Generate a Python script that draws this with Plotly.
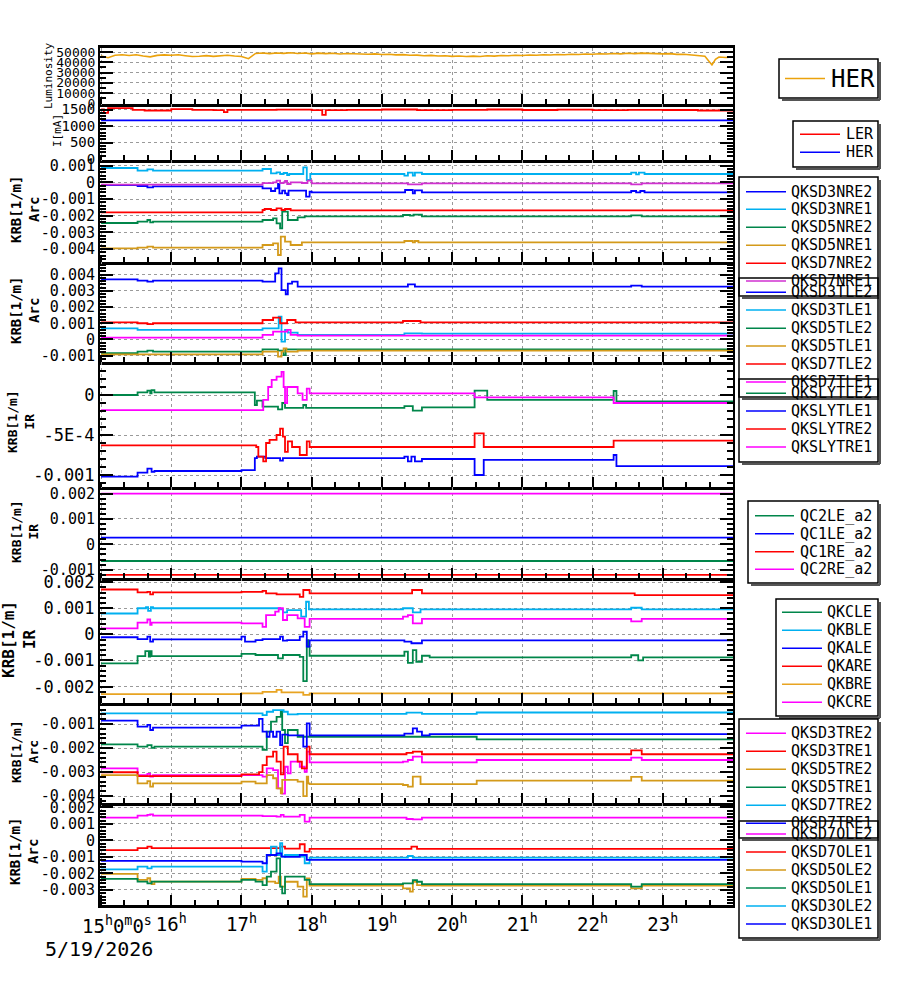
import plotly.graph_objects as go

FONT = "DejaVu Sans Mono"
W, H = 900, 984
ML, MR, MT, MB = 100, 167, 48, 79
PW = W - ML - MR
PH = H - MT - MB


def X(px):
    return (px - ML) / PW


def Y(py):
    return (H - MB - py) / PH


# ---------------- data ----------------
HOURS = [15, 16, 17, 18, 19, 20, 21, 22, 23, 24]
HOUR_LABELS = ["", "16<sup>h</sup>", "17<sup>h</sup>", "18<sup>h</sup>", "19<sup>h</sup>",
               "20<sup>h</sup>", "21<sup>h</sup>", "22<sup>h</sup>", "23<sup>h</sup>", ""]

LUM_T = [15.0, 15.1, 15.2, 15.3, 15.4, 15.5, 15.6, 15.7, 15.8, 15.9, 16.0, 16.1, 16.2, 16.3, 16.4,
         16.5, 16.6, 16.7, 16.8, 16.9, 17.0, 17.1, 17.2, 17.3, 17.4, 17.5, 17.6, 17.7, 17.8, 17.9,
         18.0, 18.1, 18.2, 18.3, 18.4, 18.5, 18.6, 18.7, 18.8, 18.9, 19.0, 19.1, 19.2, 19.3, 19.4,
         19.5, 19.6, 19.7, 19.8, 19.9, 20.0, 20.1, 20.2, 20.3, 20.4, 20.5, 20.6, 20.7, 20.8, 20.9,
         21.0, 21.1, 21.2, 21.3, 21.4, 21.5, 21.6, 21.7, 21.8, 21.9, 22.0, 22.1, 22.2, 22.3, 22.4,
         22.5, 22.6, 22.7, 22.8, 22.9, 23.0, 23.1, 23.2, 23.3, 23.4, 23.5, 23.6, 23.7, 23.75, 23.8,
         23.9, 24.0]
LUM_V = [46200, 44500, 46800, 47300, 46600, 47400, 46100, 45300, 46700, 47200, 46900, 47300, 46400,
         45600, 45900, 46500, 45800, 46400, 46900, 46200, 45700, 43500, 48600, 49100, 48400, 49000,
         48700, 49300, 48600, 49000, 48200, 48900, 48400, 48800, 48100, 48600, 48300, 48700, 47900,
         48200, 47600, 47900, 47200, 47500, 46800, 47000, 46400, 46700, 46100, 46400, 45800, 46200,
         45600, 46000, 45700, 46300, 46000, 46600, 46300, 46900, 46600, 47100, 46800, 47400, 47100,
         47600, 47300, 47900, 47600, 48100, 47800, 48300, 48000, 48600, 48200, 48800, 48400, 48900,
         48500, 48700, 48200, 48400, 47700, 47900, 47200, 46800, 45900, 37500, 43000, 45200, 44600,
         45300]

LER_T = [15.0, 15.04, 15.1, 15.45, 15.62, 16.0, 16.3, 16.6, 16.75, 16.8, 17.3, 17.5, 18.0, 18.15,
         18.2, 18.5, 19.0, 19.5, 20.0, 20.5, 21.0, 21.5, 22.0, 22.5, 23.0, 23.5, 24.0]
LER_V = [1500, 1400, 1540, 1490, 1470, 1510, 1490, 1480, 1420, 1490, 1490, 1495, 1480, 1340, 1480,
         1490, 1500, 1480, 1490, 1500, 1485, 1495, 1480, 1490, 1485, 1470, 1480]
HER_T = [15.0, 24.0]
HER_V = [1173, 1173]

# KRB panels: [hour, value in units of 1e-3]
QKSD3NRE2 = [[15.0, -0.16], [15.52, -0.22], [15.66, -0.30], [15.74, -0.24], [17.30, -0.36],
             [17.42, -0.52], [17.48, -0.36], [17.52, -0.10], [17.54, -0.66], [17.58, -0.50],
             [17.62, -0.66], [17.65, -0.76], [17.67, -0.50], [17.88, -0.50], [17.92, -0.86],
             [17.97, -0.56], [18.0, -0.60], [19.33, -0.46], [19.44, -0.66], [19.47, -0.48],
             [19.57, -0.60], [22.55, -0.52], [22.62, -0.60], [22.68, -0.52], [22.74, -0.60]]
QKSD3NRE1 = [[15.0, 0.86], [15.52, 0.70], [15.66, 0.78], [15.74, 0.70], [17.30, 0.80], [17.42, 0.54],
             [17.50, 0.60], [17.55, 0.50], [17.60, 0.56], [17.65, 0.44], [17.68, 0.50], [17.88, 0.90],
             [17.93, 0.14], [17.98, 0.50], [19.32, 0.40], [19.37, 0.58], [19.44, 0.40], [19.47, 0.58],
             [19.57, 0.50], [22.55, 0.58], [22.62, 0.48], [22.66, 0.58], [22.74, 0.50]]
QKSD5NRE2 = [[15.0, -2.44], [15.52, -2.36], [15.66, -2.26], [15.70, -2.40], [15.74, -2.36],
             [17.30, -2.26], [17.45, -2.16], [17.50, -2.46], [17.55, -2.76], [17.58, -1.76],
             [17.66, -2.26], [17.80, -2.10], [17.90, -2.04], [19.30, -1.96], [19.40, -2.00],
             [19.45, -1.94], [19.57, -2.04], [22.55, -1.98], [22.70, -2.04]]
QKSD5NRE1 = [[15.0, -3.96], [15.52, -3.92], [15.66, -3.86], [15.74, -3.92], [17.30, -3.76],
             [17.45, -3.66], [17.52, -4.36], [17.56, -3.26], [17.62, -3.56], [17.70, -3.76],
             [17.86, -3.60], [19.32, -3.52], [19.44, -3.60], [19.47, -3.52], [19.52, -3.60]]
QKSD7NRE2 = [[15.0, -1.80], [17.30, -1.66], [17.33, -1.60], [17.42, -1.66], [17.50, -1.56],
             [17.57, -1.66], [17.62, -1.60], [17.70, -1.68]]
QKSD7NRE1 = [[15.0, -0.14], [17.30, -0.05], [17.45, 0.0], [17.50, 0.10], [17.55, -0.05], [17.60, 0.0],
             [17.62, 0.08], [17.65, -0.10], [17.70, 0.0], [17.86, -0.04], [17.94, 0.10], [18.0, -0.06],
             [19.37, -0.12], [19.57, -0.06], [22.55, -0.12], [22.70, -0.06]]

QKSD3TLE2 = [[15.0, 3.71], [15.52, 3.63], [15.66, 3.57], [15.74, 3.63], [17.30, 3.57], [17.48, 4.08],
             [17.53, 4.39], [17.57, 3.05], [17.63, 2.79], [17.66, 3.44], [17.72, 3.57], [17.80, 3.26],
             [19.37, 3.40], [19.47, 3.26], [22.55, 3.32], [22.70, 3.26]]
QKSD3TLE1 = [[15.0, 0.69], [15.52, 0.59], [17.30, 0.69], [17.53, 1.41], [17.57, -0.13], [17.62, 0.59],
             [17.66, 0.42], [17.80, 0.28], [19.32, 0.38], [19.57, 0.36]]
QKSD5TLE2 = [[15.0, -0.85], [15.52, -0.75], [15.66, -0.69], [15.74, -0.75], [17.30, -0.61],
             [17.52, -0.69], [17.60, -0.96], [17.63, -0.61]]
QKSD5TLE1 = [[15.0, -0.92], [17.30, -0.75], [17.52, -1.06], [17.57, -0.75], [17.60, -0.55],
             [17.64, -0.75], [17.80, -0.69]]
QKSD7TLE2 = [[15.0, 1.06], [15.52, 1.00], [15.66, 0.95], [15.74, 1.00], [17.30, 1.20], [17.45, 1.35],
             [17.55, 1.00], [17.65, 1.20], [17.77, 1.06], [19.30, 1.14], [19.55, 1.06]]
QKSD7TLE1 = [[15.0, 0.11], [17.30, 0.28], [17.45, 0.48], [17.65, 0.59], [17.70, 0.28], [17.80, 0.24]]

QKSLYTLE2 = [[15.0, 0.0], [15.52, 0.033], [15.66, 0.054], [15.70, 0.02], [15.72, 0.06],
             [15.76, 0.033], [17.19, -0.125], [17.22, -0.07], [17.30, -0.146], [17.52, -0.18],
             [17.58, -0.10], [17.62, -0.16], [17.88, -0.125], [17.92, -0.16], [19.32, -0.14],
             [19.44, -0.196], [19.57, -0.154], [20.32, 0.054], [20.50, -0.06], [22.30, 0.05],
             [22.34, -0.08]]
QKSLYTLE1 = [[15.0, -1.02], [15.52, -0.97], [15.66, -0.92], [15.72, -0.96], [15.76, -0.95],
             [17.0, -0.94], [17.19, -0.79], [17.22, -0.77], [17.34, -0.79], [17.55, -0.82],
             [17.59, -0.79], [19.32, -0.77], [19.37, -0.83], [19.42, -0.77], [19.47, -0.83],
             [19.57, -0.80], [20.32, -1.0], [20.45, -0.81], [22.30, -0.75], [22.34, -0.89]]
QKSLYTRE2 = [[15.0, -0.63], [17.21, -0.65], [17.24, -0.77], [17.31, -0.83], [17.35, -0.60],
             [17.40, -0.56], [17.50, -0.50], [17.55, -0.42], [17.59, -0.52], [17.62, -0.71],
             [17.66, -0.58], [17.72, -0.65], [17.83, -0.75], [17.93, -0.58], [17.97, -0.65],
             [20.32, -0.48], [20.45, -0.65], [22.30, -0.57]]
QKSLYTRE1 = [[15.0, -0.19], [17.31, -0.06], [17.38, 0.10], [17.43, 0.19], [17.50, 0.23], [17.57, 0.29],
             [17.60, 0.10], [17.62, -0.10], [17.65, 0.10], [17.80, 0.02], [17.87, -0.06],
             [17.93, 0.08], [17.97, 0.02], [20.32, -0.03], [22.30, -0.10]]

QC2LE_a2 = [[15.0, -0.66], [24.0, -0.66]]
QC1LE_a2 = [[15.0, 0.26], [24.0, 0.26]]
QC1RE_a2 = [[15.0, -1.21], [24.0, -1.21]]
QC2RE_a2 = [[15.0, 2.0], [24.0, 2.0]]

QKCLE = [[15.0, -1.11], [15.52, -0.83], [15.63, -0.64], [15.68, -0.85], [15.70, -0.64], [15.72, -0.83],
         [17.0, -0.75], [17.2, -0.79], [17.52, -0.92], [17.59, -0.79], [17.83, -0.86], [17.88, -1.79],
         [17.93, -0.22], [17.95, -0.47], [17.97, -0.82], [19.32, -0.66], [19.37, -1.09], [19.44, -0.60],
         [19.49, -1.05], [19.57, -0.82], [19.68, -0.88], [22.55, -0.80], [22.65, -1.00], [22.72, -0.88]]
QKBLE = [[15.0, 0.80], [15.52, 1.00], [15.64, 1.04], [15.67, 0.90], [15.71, 1.04], [15.74, 1.00],
         [17.55, 0.96], [17.59, 0.84], [17.65, 0.93], [17.85, 0.68], [17.92, 1.25], [17.96, 0.96],
         [19.30, 1.00], [19.44, 0.84], [19.55, 0.96], [22.55, 1.02], [22.70, 0.96]]
QKALE = [[15.0, -0.11], [15.52, -0.18], [15.66, -0.09], [15.70, -0.28], [15.74, -0.19], [17.0, -0.09],
         [17.05, -0.28], [17.20, -0.22], [17.30, -0.18], [17.55, -0.09], [17.59, -0.24], [17.65, -0.22],
         [17.83, -0.09], [17.88, 0.10], [17.93, -0.47], [17.97, -0.23], [19.32, -0.28], [19.42, -0.34],
         [19.57, -0.23]]
QKARE = [[15.0, 1.72], [15.52, 1.61], [15.66, 1.63], [15.70, 1.53], [15.74, 1.61], [17.0, 1.63],
         [17.30, 1.67], [17.35, 1.57], [17.50, 1.53], [17.83, 1.44], [17.88, 1.70], [17.97, 1.57],
         [19.43, 1.70], [19.57, 1.57], [22.60, 1.50]]
QKBRE = [[15.0, -2.29], [17.0, -2.26], [17.30, -2.20], [17.50, -2.13], [17.57, -2.22], [17.88, -2.32],
         [17.97, -2.26]]
QKCRE = [[15.0, 0.23], [15.52, 0.45], [15.66, 0.57], [15.70, 0.36], [15.72, 0.45], [17.0, 0.42],
         [17.30, 0.29], [17.35, 0.74], [17.48, 0.87], [17.53, 1.00], [17.59, 0.55], [17.65, 0.74],
         [17.80, 0.61], [17.90, 0.29], [17.97, 0.59], [19.30, 0.68], [19.37, 0.74], [19.44, 0.42],
         [19.57, 0.59], [22.55, 0.50], [22.70, 0.59]]

QKSD3TRE2 = [[15.0, -2.85], [15.52, -3.13], [15.66, -3.08], [15.70, -3.19], [15.74, -3.13],
             [17.30, -3.19], [17.36, -2.85], [17.45, -2.92], [17.52, -3.68], [17.58, -3.90],
             [17.62, -2.78], [17.66, -3.06], [17.70, -2.57], [17.83, -2.78], [17.90, -2.99],
             [17.93, -2.15], [17.97, -2.60], [19.30, -2.57], [19.37, -2.50], [19.44, -2.36],
             [19.57, -2.60], [20.35, -2.50], [22.55, -2.40], [22.70, -2.50]]
QKSD3TRE1 = [[15.0, -3.01], [15.52, -3.17], [17.0, -3.10], [17.25, -3.0], [17.30, -2.71],
             [17.36, -2.36], [17.45, -2.15], [17.50, -2.57], [17.56, -3.10], [17.60, -1.94],
             [17.66, -2.26], [17.80, -2.57], [17.86, -2.85], [17.93, -1.94], [17.97, -2.26],
             [19.35, -2.20], [19.44, -2.15], [19.57, -2.26], [22.55, -2.10], [22.70, -2.26]]
QKSD5TRE2 = [[15.0, -3.13], [15.52, -3.47], [15.66, -3.38], [15.70, -3.61], [15.74, -3.47],
             [17.0, -3.40], [17.20, -3.47], [17.36, -3.13], [17.45, -3.26], [17.50, -3.68],
             [17.56, -3.89], [17.58, -3.33], [17.80, -3.40], [17.88, -4.0], [17.93, -3.19],
             [17.95, -3.47], [17.97, -3.50], [19.30, -3.54], [19.37, -3.61], [19.44, -3.19],
             [19.55, -3.50], [20.35, -3.36], [22.55, -3.20], [22.70, -3.36]]
QKSD5TRE1 = [[15.0, -1.85], [15.52, -1.94], [15.66, -1.88], [15.72, -1.99], [15.76, -1.94],
             [17.30, -2.08], [17.36, -1.32], [17.42, -0.90], [17.50, -0.70], [17.56, -0.49],
             [17.58, -1.25], [17.62, -1.80], [17.66, -1.25], [17.80, -1.53], [20.35, -1.64]]
QKSD7TRE2 = [[15.0, -0.56], [17.30, -0.63], [17.36, -0.49], [17.45, -0.42], [17.60, -0.49],
             [17.66, -0.60], [17.80, -0.58], [19.35, -0.53], [19.57, -0.58], [20.35, -0.52]]
QKSD7TRE1 = [[15.0, -0.86], [15.52, -1.11], [15.66, -1.04], [15.70, -1.25], [15.74, -1.15],
             [17.0, -1.07], [17.25, -0.79], [17.30, -1.32], [17.36, -1.53], [17.40, -1.32],
             [17.45, -1.53], [17.50, -1.32], [17.55, -1.88], [17.58, -1.44], [17.66, -1.47],
             [17.88, -1.94], [17.93, -0.97], [17.97, -1.47], [19.32, -1.40], [19.44, -1.18],
             [19.50, -1.32], [19.57, -1.47], [19.68, -1.42]]

QKSD7OLE2 = [[15.0, 1.38], [15.52, 1.50], [15.66, 1.55], [15.70, 1.58], [15.74, 1.50], [17.30, 1.48],
             [17.50, 1.44], [17.56, 1.55], [17.60, 1.44], [17.83, 1.55], [17.90, 1.14], [17.97, 1.38],
             [19.35, 1.30], [19.44, 1.28], [19.57, 1.38]]
QKSD7OLE1 = [[15.0, -0.58], [15.52, -0.47], [15.66, -0.37], [15.72, -0.47], [17.55, -0.37],
             [17.62, -0.50], [17.83, -0.23], [17.90, -0.68], [17.97, -0.51], [19.42, -0.37],
             [19.50, -0.51]]
QKSD5OLE2 = [[15.0, -2.03], [15.52, -2.39], [15.66, -2.29], [15.70, -2.49], [15.72, -2.64],
             [15.76, -2.49], [17.0, -2.33], [17.20, -2.39], [17.30, -2.29], [17.36, -2.49],
             [17.48, -2.59], [17.53, -2.19], [17.56, -2.80], [17.62, -2.50], [17.80, -2.80],
             [17.88, -3.40], [17.93, -2.30], [17.97, -2.74], [19.30, -2.90], [19.40, -3.10],
             [19.44, -2.50], [19.50, -2.70], [19.57, -2.74], [22.55, -2.90], [22.70, -2.74]]
QKSD5OLE1 = [[15.0, -2.33], [15.52, -2.49], [15.66, -2.60], [15.72, -2.49], [17.0, -2.39],
             [17.20, -2.49], [17.30, -2.70], [17.36, -2.19], [17.42, -1.89], [17.50, -1.08],
             [17.55, -2.80], [17.58, -3.20], [17.62, -2.19], [17.90, -2.39], [17.97, -2.64],
             [19.30, -2.60], [19.44, -2.40], [19.50, -2.50], [19.57, -2.64], [22.55, -2.80],
             [22.70, -2.64]]
QKSD3OLE2 = [[15.0, -1.75], [15.52, -1.59], [15.66, -1.69], [15.72, -1.59], [17.30, -1.89],
             [17.36, -0.88], [17.42, -0.37], [17.50, -0.88], [17.55, -0.17], [17.58, -0.98],
             [17.62, -0.88], [17.85, -0.98], [17.90, -1.38], [17.97, -1.04], [19.37, -0.94],
             [19.44, -1.04]]
QKSD3OLE1 = [[15.0, -1.24], [17.0, -1.28], [17.30, -1.38], [17.36, -0.88], [17.50, -0.78],
             [17.57, -0.98], [17.62, -1.00], [17.83, -0.88], [17.93, -1.18]]

# ---------------- styles ----------------
BLUE, CYAN, GREEN, GOLD = "#0000ff", "#00b0f0", "#00864a", "#d49a1a"
RED, MAG, LUMC, GOLD2 = "#ff0000", "#ff00ff", "#eba20c", "#e8a422"

BOUNDS = [(48, 104), (104, 160), (160, 262), (262, 362), (362, 487), (487, 578),
          (578, 703), (703, 803), (803, 905)]

fig = go.Figure()


def add_line(t, v, color, panel, step=False, scale=1.0, width=1.8):
    x = list(t)
    y = [val * scale for val in v]
    if step and x[-1] < 24.0:
        x.append(24.0)
        y.append(y[-1])
    fig.add_trace(go.Scatter(x=x, y=y, mode="lines", showlegend=False,
                             line=dict(color=color, width=width, shape="hv" if step else "linear"),
                             xaxis="x" if panel == 1 else f"x{panel}",
                             yaxis="y" if panel == 1 else f"y{panel}"))


def add_krb(pts, color, panel):
    add_line([p[0] for p in pts], [p[1] for p in pts], color, panel, step=True, scale=1e-3)


# panel 1, 2
add_line(LUM_T, LUM_V, LUMC, 1, width=1.6)
add_line(LER_T, LER_V, RED, 2, step=True)
add_line(HER_T, HER_V, BLUE, 2, step=True)

P3 = [("QKSD3NRE2", QKSD3NRE2, BLUE), ("QKSD3NRE1", QKSD3NRE1, CYAN), ("QKSD5NRE2", QKSD5NRE2, GREEN),
      ("QKSD5NRE1", QKSD5NRE1, GOLD), ("QKSD7NRE2", QKSD7NRE2, RED), ("QKSD7NRE1", QKSD7NRE1, "#d030d0")]
P4 = [("QKSD3TLE2", QKSD3TLE2, BLUE), ("QKSD3TLE1", QKSD3TLE1, CYAN), ("QKSD5TLE2", QKSD5TLE2, GREEN),
      ("QKSD5TLE1", QKSD5TLE1, GOLD), ("QKSD7TLE2", QKSD7TLE2, RED), ("QKSD7TLE1", QKSD7TLE1, MAG)]
P5 = [("QKSLYTLE2", QKSLYTLE2, GREEN), ("QKSLYTLE1", QKSLYTLE1, BLUE),
      ("QKSLYTRE2", QKSLYTRE2, RED), ("QKSLYTRE1", QKSLYTRE1, MAG)]
P6 = [("QC2LE_a2", QC2LE_a2, GREEN), ("QC1LE_a2", QC1LE_a2, BLUE),
      ("QC1RE_a2", QC1RE_a2, RED), ("QC2RE_a2", QC2RE_a2, MAG)]
P7 = [("QKCLE", QKCLE, GREEN), ("QKBLE", QKBLE, CYAN), ("QKALE", QKALE, BLUE),
      ("QKARE", QKARE, RED), ("QKBRE", QKBRE, GOLD2), ("QKCRE", QKCRE, MAG)]
P8 = [("QKSD3TRE2", QKSD3TRE2, MAG), ("QKSD3TRE1", QKSD3TRE1, RED), ("QKSD5TRE2", QKSD5TRE2, GOLD),
      ("QKSD5TRE1", QKSD5TRE1, GREEN), ("QKSD7TRE2", QKSD7TRE2, CYAN), ("QKSD7TRE1", QKSD7TRE1, BLUE)]
P9 = [("QKSD7OLE2", QKSD7OLE2, MAG), ("QKSD7OLE1", QKSD7OLE1, RED), ("QKSD5OLE2", QKSD5OLE2, GOLD),
      ("QKSD5OLE1", QKSD5OLE1, GREEN), ("QKSD3OLE2", QKSD3OLE2, CYAN), ("QKSD3OLE1", QKSD3OLE1, BLUE)]

for panel, group in [(3, P3), (4, P4), (5, P5), (6, P6), (7, P7), (8, P8), (9, P9)]:
    for name, pts, col in group:
        add_krb(pts, col, panel)

# ---------------- axes ----------------
e = 1e-3
YAX = {
    1: dict(rng=[-500, 53900], tv=[0, 10000, 20000, 30000, 40000, 50000], tt=None, md=5000, fs=13),
    2: dict(rng=[-30, 1667], tv=[0, 500, 1000, 1500], tt=None, md=100, fs=14),
    3: dict(rng=[-4.78 * e, 1.34 * e], tv=[-4, -3, -2, -1, 0, 1], tt="e", md=0.2, fs=15),
    4: dict(rng=[-1.39 * e, 4.78 * e], tv=[-1, 0, 1, 2, 3, 4], tt="e", md=0.2, fs=15),
    5: dict(rng=[-1.15 * e, 0.4125 * e], tv=[-1, -0.5, 0], tt=["-0.001", "-5E-4", "0"], md=0.1, fs=17),
    6: dict(rng=[-1.33 * e, 2.26 * e], tv=[-1, 0, 1, 2], tt="e", md=0.2, fs=15),
    7: dict(rng=[-2.63 * e, 2.16 * e], tv=[-2, -1, 0, 1, 2], tt="e", md=0.2, fs=17),
    8: dict(rng=[-4.29 * e, -0.125 * e], tv=[-4, -3, -2, -1], tt="e", md=0.2, fs=15),
    9: dict(rng=[-3.91 * e, 2.27 * e], tv=[-3, -2, -1, 0, 1, 2], tt="e", md=0.2, fs=15),
}

GRID = "#9a9a9a"
layout = {}
for i in range(1, 10):
    top, bot = BOUNDS[i - 1]
    cfg = YAX[i]
    if cfg["tt"] == "e":
        tvals = [v * e for v in cfg["tv"]]
        ttext = ["0" if v == 0 else ("-" if v < 0 else "") + "0.00" + str(abs(v)) for v in cfg["tv"]]
        mdt = cfg["md"] * e
    elif cfg["tt"] is not None:
        tvals = [v * e for v in cfg["tv"]]
        ttext = cfg["tt"]
        mdt = cfg["md"] * e
    else:
        tvals = cfg["tv"]
        ttext = [str(v) for v in cfg["tv"]]
        mdt = cfg["md"]
    xs = "" if i == 1 else str(i)
    layout[f"yaxis{xs}"] = dict(
        domain=[Y(bot), Y(top)], range=cfg["rng"], anchor=f"x{xs}",
        tickmode="array", tickvals=tvals, ticktext=ttext,
        ticks="inside", ticklen=13, tickwidth=2, tickcolor="black",
        showline=True, linewidth=2, linecolor="black", mirror="ticks",
        showgrid=True, gridcolor=GRID, griddash="3px,3px", gridwidth=1, zeroline=False,
        tickfont=dict(family=FONT, size=cfg["fs"], color="black"),
        minor=dict(ticks="inside", ticklen=6, tickwidth=1.5, tickcolor="black",
                   tickmode="linear", tick0=0, dtick=mdt, showgrid=False),
    )
    xa = dict(
        domain=[0, 1], anchor=f"y{xs}", range=[14.985, 24.0],
        tickmode="array", tickvals=HOURS, ticktext=HOUR_LABELS,
        ticks="inside", ticklen=10, tickwidth=2, tickcolor="black",
        showline=True, linewidth=3, linecolor="black",
        showgrid=True, gridcolor=GRID, griddash="3px,3px", gridwidth=1, zeroline=False,
        minor=dict(ticks="inside", ticklen=5, tickwidth=1.5, tickcolor="black",
                   tickmode="linear", tick0=15, dtick=1 / 3, showgrid=False),
        showticklabels=(i == 9),
        tickfont=dict(family=FONT, size=19, color="black"),
    )
    if i == 1:
        xa["mirror"] = True
    else:
        xa["matches"] = "x"
    layout[f"xaxis{xs}"] = xa

fig.update_layout(
    width=W, height=H, margin=dict(l=ML, r=MR, t=MT, b=MB),
    paper_bgcolor="white", plot_bgcolor="white", showlegend=False,
    font=dict(family=FONT, color="black"),
    **layout,
)

# ---------------- axis titles ----------------
TITLES = [
    ("Luminosity", 48, 76, 11, False),
    ("I[mA]", 57, 131, 11, False),
    ("KRB[1/m]<br>Arc", 25, 210, 14, True),
    ("KRB[1/m]<br>Arc", 25, 311, 14, True),
    ("KRB[1/m]<br>IR", 21, 422, 13, True),
    ("KRB[1/m]<br>IR", 25, 532, 13, True),
    ("KRB[1/m]<br>IR", 19, 640, 16, True),
    ("KRB[1/m]<br>Arc", 25, 752, 13, True),
    ("KRB[1/m]<br>Arc", 24, 852, 14, True),
]
for text, px, py, fs, bold in TITLES:
    fig.add_annotation(x=X(px), y=Y(py), xref="paper", yref="paper", showarrow=False,
                       text=f"<b>{text}</b>" if bold else text, textangle=-90,
                       xanchor="center", yanchor="middle",
                       font=dict(family=FONT, size=fs, color="black"))

fig.add_annotation(x=X(80), y=Y(925), xref="paper", yref="paper", showarrow=False,
                   text="15<sup>h</sup>0<sup>m</sup>0<sup>s</sup>", xanchor="left", yanchor="middle",
                   font=dict(family=FONT, size=19, color="black"))
fig.add_annotation(x=X(43), y=Y(949), xref="paper", yref="paper", showarrow=False,
                   text="5/19/2026", xanchor="left", yanchor="middle",
                   font=dict(family=FONT, size=20, color="black"))

# ---------------- legends ----------------


def add_legend(entries, box, ys, sx0, sx1, tx, fs):
    l, t, r, b = box
    shadow = dict(color="#555555", width=2)
    fig.add_shape(type="line", xref="paper", yref="paper", x0=X(r + 2), x1=X(r + 2),
                  y0=Y(t + 3), y1=Y(b + 2), line=shadow)
    fig.add_shape(type="line", xref="paper", yref="paper", x0=X(l + 3), x1=X(r + 2),
                  y0=Y(b + 2), y1=Y(b + 2), line=shadow)
    fig.add_shape(type="rect", xref="paper", yref="paper", x0=X(l), x1=X(r), y0=Y(b), y1=Y(t),
                  line=dict(color="black", width=1.5), fillcolor="rgba(0,0,0,0)")
    for (name, col), yy in zip(entries, ys):
        fig.add_shape(type="line", xref="paper", yref="paper", x0=X(sx0), x1=X(sx1),
                      y0=Y(yy), y1=Y(yy), line=dict(color=col, width=1.5))
        fig.add_annotation(x=X(tx), y=Y(yy), xref="paper", yref="paper", showarrow=False,
                           text=name, xanchor="left", yanchor="middle",
                           font=dict(family=FONT, size=fs, color="black"))


def entries(group):
    return [(n, c) for n, _, c in group]


add_legend([("HER", LUMC)], (779, 59, 878, 98), [78.5], 785, 825, 829, 24)
add_legend([("LER", RED), ("HER", BLUE)], (793, 121, 878, 167), [134.3, 152.3], 800, 840, 844, 15)
add_legend(entries(P3), (739, 177, 878, 296), [191.7, 209.3, 227.3, 245.3, 263.3, 281], 746, 786, 789, 15)
add_legend(entries(P4), (739, 278, 878, 397), [292.3, 310, 328.3, 346, 364, 382], 746, 786, 789, 15)
add_legend(entries(P5), (739, 379, 878, 462), [393.3, 411, 429, 447], 746, 786, 789, 15)
add_legend(entries(P6), (748, 501, 878, 583), [515.7, 533.7, 551.7, 569.3], 755, 794, 798, 15)
add_legend(entries(P7), (776, 599, 878, 716), [612.3, 630.3, 648.3, 666.3, 684.3, 702.3], 782, 822, 825, 15)
add_legend(entries(P8), (739, 719, 878, 838), [733.3, 751.3, 769.3, 787.3, 805.3, 823.3], 746, 786, 789, 15)
add_legend(entries(P9), (739, 821, 878, 938), [834, 852, 870, 888, 906, 924], 746, 786, 789, 15)

fig.write_html("out.html")
